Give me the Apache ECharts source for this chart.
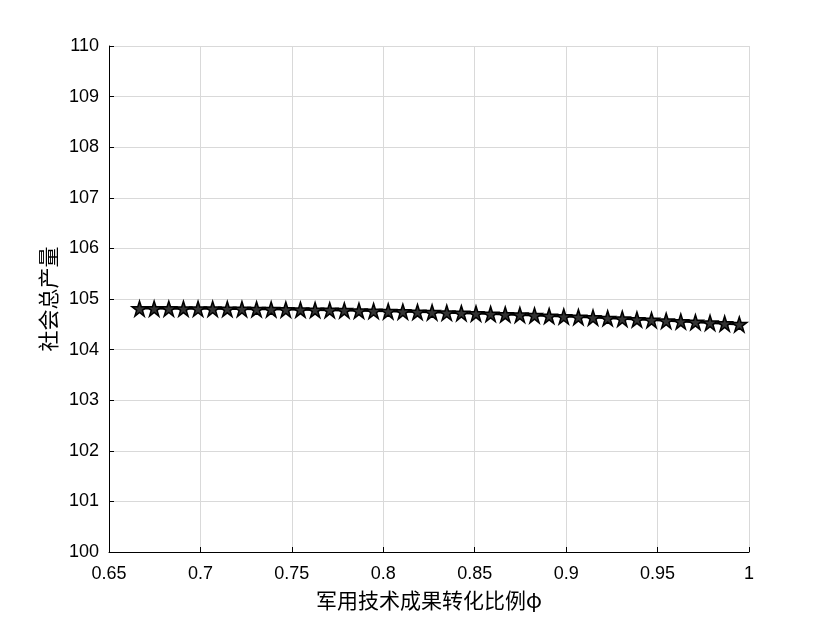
<!DOCTYPE html>
<html><head><meta charset="utf-8">
<script src="https://cdn.jsdelivr.net/npm/echarts@6/dist/echarts.min.js"></script>
<style>html,body{margin:0;padding:0;background:#fff}#c{width:827px;height:619px}</style>
</head><body><div id="c"></div>
<script>
const phi = [0.6667,0.6747,0.6827,0.6907,0.6987,0.7067,0.7147,0.7227,0.7307,0.7387,0.7467,0.7547,0.7627,0.7707,0.7787,0.7867,0.7947,0.8027,0.8107,0.8187,0.8267,0.8347,0.8427,0.8507,0.8587,0.8667,0.8747,0.8827,0.8907,0.8987,0.9067,0.9147,0.9227,0.9307,0.9387,0.9467,0.9547,0.9627,0.9707,0.9787,0.9867,0.9947];
const output = [104.810,104.810,104.809,104.808,104.807,104.805,104.803,104.801,104.798,104.795,104.791,104.788,104.783,104.779,104.774,104.768,104.762,104.756,104.750,104.743,104.736,104.728,104.720,104.712,104.703,104.694,104.685,104.675,104.664,104.654,104.643,104.632,104.620,104.608,104.595,104.583,104.569,104.556,104.542,104.528,104.513,104.498];
const xName = '军用技术成果转化比例φ';
const yName = '社会总产量';
const star = 'path://M50,0 L61.8,35.1 L100,35.1 L69.1,56.7 L80.9,92.7 L50,70 L19.1,92.7 L30.9,56.7 L0,35.1 L38.2,35.1 Z';
const font = '"Liberation Sans", Arial, sans-serif';
const cjk = '"Noto Sans CJK SC", sans-serif';
const chart = echarts.init(document.getElementById('c'));
chart.setOption({
  animation: false,
  grid: {left: 109, right: 78, top: 46, bottom: 67},
  xAxis: {
    type: 'value', min: 0.65, max: 1, interval: 0.05,
    name: xName, nameLocation: 'middle', nameGap: 38,
    nameTextStyle: {fontFamily: cjk, fontSize: 21, color: '#000'},
    axisLine: {show: true, onZero: false, lineStyle: {color: '#000', width: 1}},
    axisTick: {show: true, inside: true, length: 5, lineStyle: {color: '#000'}},
    axisLabel: {color: '#000', fontSize: 18, fontFamily: font, margin: 13,
      formatter: v => String(+v.toFixed(2))},
    splitLine: {show: true, lineStyle: {color: '#d9d9d9', width: 1}}
  },
  yAxis: {
    type: 'value', min: 100, max: 110, interval: 1,
    name: yName, nameLocation: 'middle', nameGap: 50, nameRotate: 90,
    nameTextStyle: {fontFamily: cjk, fontSize: 21, color: '#000'},
    axisLine: {show: true, onZero: false, lineStyle: {color: '#000', width: 1}},
    axisTick: {show: true, inside: true, length: 5, lineStyle: {color: '#000'}},
    axisLabel: {color: '#000', fontSize: 18, fontFamily: font, margin: 10},
    splitLine: {show: true, lineStyle: {color: '#d9d9d9', width: 1}}
  },
  series: [{
    type: 'line',
    data: phi.map((x, i) => [x, output[i]]),
    symbol: star, symbolSize: 15, showAllSymbol: true,
    lineStyle: {color: '#000', width: 2},
    itemStyle: {color: '#333', borderColor: '#000', borderWidth: 1.5}
  }]
});
</script></body></html>
